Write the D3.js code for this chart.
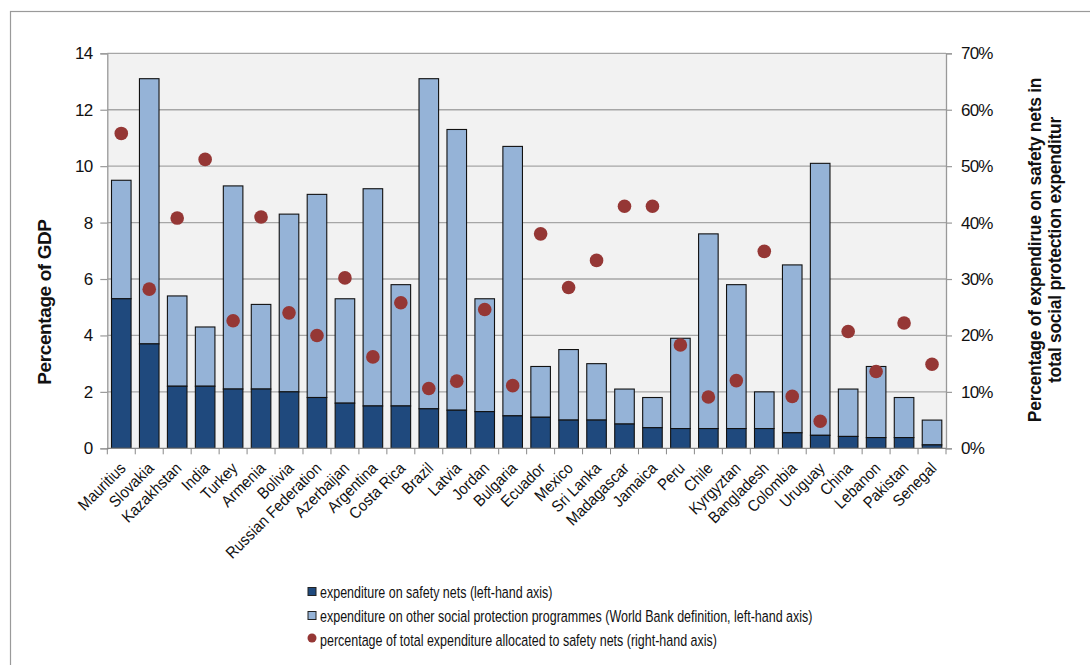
<!DOCTYPE html>
<html>
<head>
<meta charset="utf-8">
<script src="https://cdn.jsdelivr.net/npm/d3@7"></script>
<style>
  html, body { margin: 0; padding: 0; background: #fff; }
  svg { display: block; font-family: "Liberation Sans", Arial, sans-serif; }
</style>
</head>
<body>
<svg id="chart" width="1090" height="665"></svg>
<script>
// Countries, ordered by spending on safety nets
const categories = ["Mauritius", "Slovakia", "Kazakhstan", "India", "Turkey", "Armenia", "Bolivia",
  "Russian Federation", "Azerbaijan", "Argentina", "Costa Rica", "Brazil", "Latvia", "Jordan",
  "Bulgaria", "Ecuador", "Mexico", "Sri Lanka", "Madagascar", "Jamaica", "Peru", "Chile",
  "Kyrgyztan", "Bangladesh", "Colombia", "Uruguay", "China", "Lebanon", "Pakistan", "Senegal"];

// Expenditure on safety nets, % of GDP
const safetyNets = [5.3, 3.7, 2.2, 2.2, 2.1, 2.1, 2.0, 1.8, 1.6, 1.5, 1.5, 1.4, 1.35, 1.3, 1.15,
  1.1, 1.0, 1.0, 0.86, 0.73, 0.7, 0.7, 0.7, 0.7, 0.55, 0.46, 0.42, 0.38, 0.38, 0.12];

// Expenditure on other social protection programmes, % of GDP
const otherSP = [4.2, 9.4, 3.2, 2.1, 7.2, 3.0, 6.3, 7.2, 3.7, 7.7, 4.3, 11.7, 9.95, 4.0, 9.55,
  1.8, 2.5, 2.0, 1.24, 1.07, 3.2, 6.9, 5.1, 1.3, 5.95, 9.64, 1.68, 2.52, 1.42, 0.88];

// Share of total social protection spending going to safety nets, %
const shareSafety = [55.8, 28.2, 40.8, 51.2, 22.6, 41.0, 24.0, 20.0, 30.2, 16.2, 25.8, 10.6, 11.9,
  24.6, 11.1, 38.0, 28.5, 33.3, 42.9, 42.9, 18.3, 9.1, 12.0, 34.9, 9.2, 4.8, 20.7, 13.6, 22.2, 14.9];

const leftTicks = [0, 2, 4, 6, 8, 10, 12, 14];
const rightTicks = [0, 10, 20, 30, 40, 50, 60, 70];

const legendLabels = [
  "expenditure on safety nets (left-hand axis)",
  "expenditure on other social protection programmes (World Bank definition, left-hand axis)",
  "percentage of total expenditure allocated to safety nets  (right-hand axis)"
];

const colors = { safety: "#1f497d", other: "#95b3d7", dot: "#953735", grid: "#a6a6a6", plotBg: "#f2f2f2" };

const svg = d3.select("#chart");
const margin = { left: 107.3, top: 53.3, right: 1090 - 946, bottom: 665 - 448.3 };
const W = 1090 - margin.left - margin.right;
const H = 665 - margin.top - margin.bottom;

// Outer frame (top and left edges visible)
svg.append("rect").attr("x", 10.5).attr("y", 11.5).attr("width", 1200).attr("height", 1000)
  .attr("fill", "none").attr("stroke", "#9a9a9a").attr("stroke-width", 1.2);

const g = svg.append("g").attr("transform", `translate(${margin.left},${margin.top})`);

const x = d3.scaleBand().domain(categories).range([0, W]).paddingInner(0.3).paddingOuter(0.15);
const y = d3.scaleLinear().domain([0, 14]).range([H, 0]);
const y2 = d3.scaleLinear().domain([0, 70]).range([H, 0]);

g.append("rect").attr("width", W).attr("height", H).attr("fill", colors.plotBg);

// Horizontal gridlines
g.append("g").selectAll("line").data(leftTicks.filter(d => d > 0)).join("line")
  .attr("x1", 0).attr("x2", W).attr("y1", d => y(d)).attr("y2", d => y(d))
  .attr("stroke", colors.grid).attr("stroke-width", 1.3);

// Stacked bars
const stack = categories.map((c, i) => ({ c, s: safetyNets[i], o: otherSP[i], p: shareSafety[i] }));
const barG = g.append("g");
barG.selectAll("rect.other").data(stack).join("rect").attr("class", "other")
  .attr("x", d => x(d.c)).attr("width", x.bandwidth())
  .attr("y", d => y(d.s + d.o)).attr("height", d => y(d.s) - y(d.s + d.o))
  .attr("fill", colors.other).attr("stroke", "#111").attr("stroke-width", 1.1);
barG.selectAll("rect.safety").data(stack).join("rect").attr("class", "safety")
  .attr("x", d => x(d.c)).attr("width", x.bandwidth())
  .attr("y", d => y(d.s)).attr("height", d => y(0) - y(d.s))
  .attr("fill", colors.safety).attr("stroke", "#111").attr("stroke-width", 1.1);

// Share markers on the right-hand scale
g.append("g").selectAll("circle").data(stack).join("circle")
  .attr("cx", d => x(d.c) + x.bandwidth() / 2).attr("cy", d => y2(d.p)).attr("r", 6.8)
  .attr("fill", colors.dot);

// Left axis
const leftAxis = g.append("g").call(d3.axisLeft(y).tickValues(leftTicks).tickSize(7).tickPadding(8));
// Right axis
const rightAxis = g.append("g").attr("transform", `translate(${W},0)`)
  .call(d3.axisRight(y2).tickValues(rightTicks).tickSize(6).tickPadding(9).tickFormat(d => d + "%"));
// Bottom axis: ticks at category boundaries
const bottomAxis = g.append("g").attr("transform", `translate(0,${H})`);
bottomAxis.append("line").attr("x1", 0).attr("x2", W).attr("stroke", "#888").attr("stroke-width", 1.3);
const bounds = d3.range(categories.length + 1).map(i => i * (W / categories.length));
bottomAxis.selectAll("line.tick").data(bounds).join("line").attr("class", "tick")
  .attr("x1", d => d).attr("x2", d => d).attr("y1", 0).attr("y2", 6)
  .attr("stroke", "#888").attr("stroke-width", 1);

[leftAxis, rightAxis].forEach(a => {
  a.select(".domain").attr("stroke", "#999").attr("stroke-width", 1.3);
  a.selectAll(".tick line").attr("stroke", "#999").attr("stroke-width", 1.2);
  a.selectAll(".tick text").attr("font-size", 17).attr("fill", "#111")
    .attr("font-family", "'Liberation Sans', Arial, sans-serif").attr("letter-spacing", -0.8);
});

// Category labels, rotated and slightly condensed
bottomAxis.selectAll("text.cat").data(categories).join("text").attr("class", "cat")
  .attr("transform", d => `translate(${x(d) + x.bandwidth() / 2 + 1.5},${17}) rotate(-45) scale(0.92,1)`)
  .attr("text-anchor", "end").attr("dy", "0.35em")
  .attr("font-size", 16).attr("fill", "#111").text(d => d);

// Axis titles
svg.append("text").attr("transform", `translate(51,302) rotate(-90)`)
  .attr("text-anchor", "middle").attr("font-size", 19).attr("font-weight", "bold").attr("fill", "#111")
  .attr("letter-spacing", -0.4).text("Percentage of GDP");
const rt = svg.append("text").attr("transform", `translate(1035,250) rotate(-90)`)
  .attr("text-anchor", "middle").attr("font-size", 17.5).attr("font-weight", "bold").attr("fill", "#111")
  .attr("letter-spacing", -0.3);
rt.append("tspan").attr("x", 0).attr("dy", "0.35em").text("Percentage of expendirue on safety nets in");
rt.append("tspan").attr("x", 0).attr("dy", 20).text("total social protection expenditur");

// Legend
const legend = svg.append("g").attr("transform", "translate(308,592)");
const legendRows = legend.selectAll("g").data(legendLabels).join("g")
  .attr("transform", (d, i) => `translate(0,${i * 24})`);
legendRows.each(function (d, i) {
  const row = d3.select(this);
  if (i < 2) {
    row.append("rect").attr("x", 0).attr("y", -4.5).attr("width", 8).attr("height", 8)
      .attr("fill", i === 0 ? colors.safety : colors.other).attr("stroke", "#222").attr("stroke-width", 1);
  } else {
    row.append("circle").attr("cx", 4).attr("cy", -2).attr("r", 4.5).attr("fill", colors.dot);
  }
  row.append("text").attr("transform", "translate(12,0) scale(0.735,1)").attr("dy", "0.35em")
    .attr("font-size", 17).attr("fill", "#111").text(d);
});
</script>
</body>
</html>
